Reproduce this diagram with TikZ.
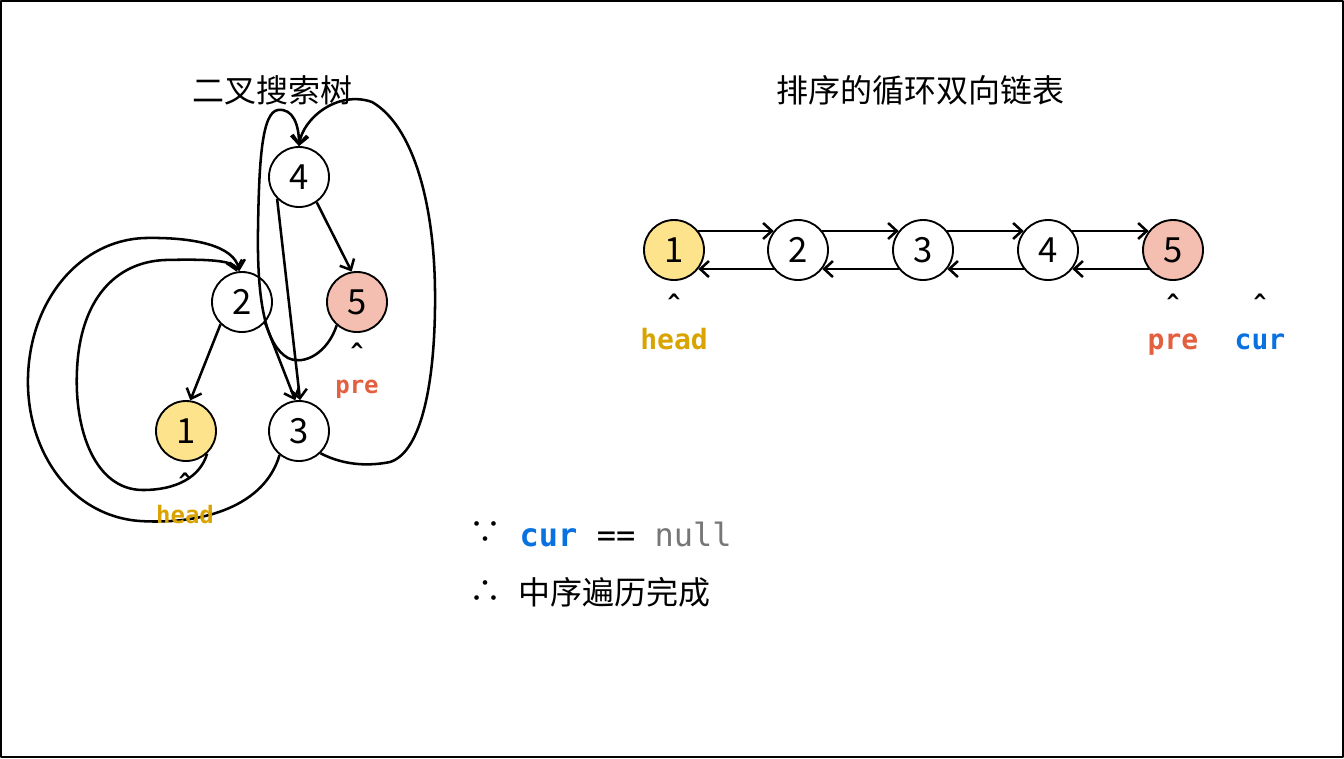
\documentclass[tikz,border=0pt]{standalone}
\usepackage{fontspec}
\setmainfont{Noto Sans CJK SC}
\setmonofont{DejaVu Sans Mono}
\usetikzlibrary{arrows.meta}
\definecolor{ink}{HTML}{000000}
\definecolor{headgold}{HTML}{D9A400}
\definecolor{prered}{HTML}{E2603F}
\definecolor{curblue}{HTML}{0A72E0}
\definecolor{nullgray}{HTML}{777777}
\definecolor{headfill}{HTML}{FDE38C}
\definecolor{prefill}{HTML}{F4BFB0}
\newcommand{\numfont}{\fontsize{26}{30}\selectfont}
\newcommand{\figfontsize}{\fontsize{24}{28}\selectfont}
\tikzset{
  every picture/.style = {font=\figfontsize, line join=round},
  vnode/.style         = {circle, draw=ink, line width=1.4pt, fill=white,
                          minimum size=45pt, inner sep=0pt, font=\numfont},
  link/.style          = {ink, line width=1.9pt,
                          -{Straight Barb[length=6.5pt, width=12pt]}},
  caret/.style         = {font=\ttfamily\bfseries\fontsize{16}{18}\selectfont},
  ptr/.style           = {anchor=base, font=\ttfamily\bfseries\fontsize{21}{24}\selectfont},
  smallptr/.style      = {anchor=base, font=\ttfamily\bfseries\fontsize{18}{20}\selectfont},
}

\begin{document}
\begin{tikzpicture}[x=0.75pt, y=-0.75pt]
  % pixel grid of the page, y pointing down
  \useasboundingbox (0,0) rectangle (1344,758);
  \draw[ink, line width=1.5pt] (1,1) rectangle (1343,757);

  % --- left: the threaded BST ------------------------------------------------
  \node (ttree) at (272,90) {二叉搜索树};
  \node[vnode]                (t4) at (299,177) {4};
  \node[vnode]                (t2) at (242,302) {2};
  \node[vnode, fill=prefill]  (t5) at (357,302) {5};
  \node[vnode, fill=headfill] (t1) at (186,431) {1};
  \node[vnode]                (t3) at (299,431) {3};

  \draw[link] (t4.-55) -- (t5.100);
  \draw[link] (t4.225) -- (t3.88);
  \draw[link] (t2.-42) -- (t3.97);
  \draw[link] (t2.226) -- (t1.82);

  % rewired pointers, looping round the tree
  \draw[link] (t3.231) .. controls (265,505) and (205,525) .. (140,521)
    .. controls (70,516) and (26,450) .. (28,377)
    .. controls (30,300) and (80,240) .. (145,238)
    .. controls (195,237) and (234,246) .. (t2.95);
  \draw[link] (t1.-47) .. controls (200,478) and (175,490) .. (143,490)
    .. controls (95,490) and (74,430) .. (77,370)
    .. controls (80,300) and (115,262) .. (165,260)
    .. controls (205,259) and (234,260) .. (t2.100);
  \draw[link] (t5.229) .. controls (328,352) and (305,366) .. (288,358)
    .. controls (265,345) and (257,300) .. (258,230)
    .. controls (259,160) and (262,112) .. (278,110)
    .. controls (293,108) and (299,125) .. (t4.north);
  \draw[link] (t3.-46) .. controls (345,466) and (370,466) .. (390,462)
    .. controls (422,452) and (436,380) .. (435,290)
    .. controls (434,200) and (412,125) .. (372,102)
    .. controls (338,90) and (303,118) .. (t4.north);

  \node[caret] (tc5) at (357,351) {\textasciicircum};
  \node[smallptr, text=prered] (tpre) at (357,393) {pre};
  \node[caret] (tc1) at (185,481) {\textasciicircum};
  \node[smallptr, text=headgold] (thead) at (185,523) {head};

  % --- right: the sorted circular doubly linked list ---------------------------
  \node (tlist) at (920,90) {排序的循环双向链表};
  \foreach \i/\x/\c in {1/674/headfill, 2/798/white, 3/923/white,
                        4/1048/white, 5/1173/prefill}
    \node[vnode, fill=\c] (l\i) at (\x,250) {\i};
  \foreach \a/\b in {1/2, 2/3, 3/4, 4/5} {
    \draw[link] (l\a.38) -- (l\b.142);
    \draw[link] (l\b.-142) -- (l\a.-38);
  }

  \node[caret] (lc1) at (674,302) {\textasciicircum};
  \node[ptr, text=headgold] (lhead) at (674,349) {head};
  \node[caret] (lc5) at (1173,302) {\textasciicircum};
  \node[ptr, text=prered] (lpre) at (1173,349) {pre};
  \node[caret] (lc6) at (1260,302) {\textasciicircum};
  \node[ptr, text=curblue] (lcur) at (1260,349) {cur};

  % --- conclusion ---------------------------------------------------------------
  \node (because) at (485,533) {∵};
  \node[anchor=west, font=\ttfamily\fontsize{24}{26}\selectfont] (cond) at (515,534)
    {{\bfseries\color{curblue}cur} == {\color{nullgray}null}};
  \node (therefore) at (485,592) {∴};
  \node[anchor=west] (done) at (514,592) {中序遍历完成};
\end{tikzpicture}
\end{document}
